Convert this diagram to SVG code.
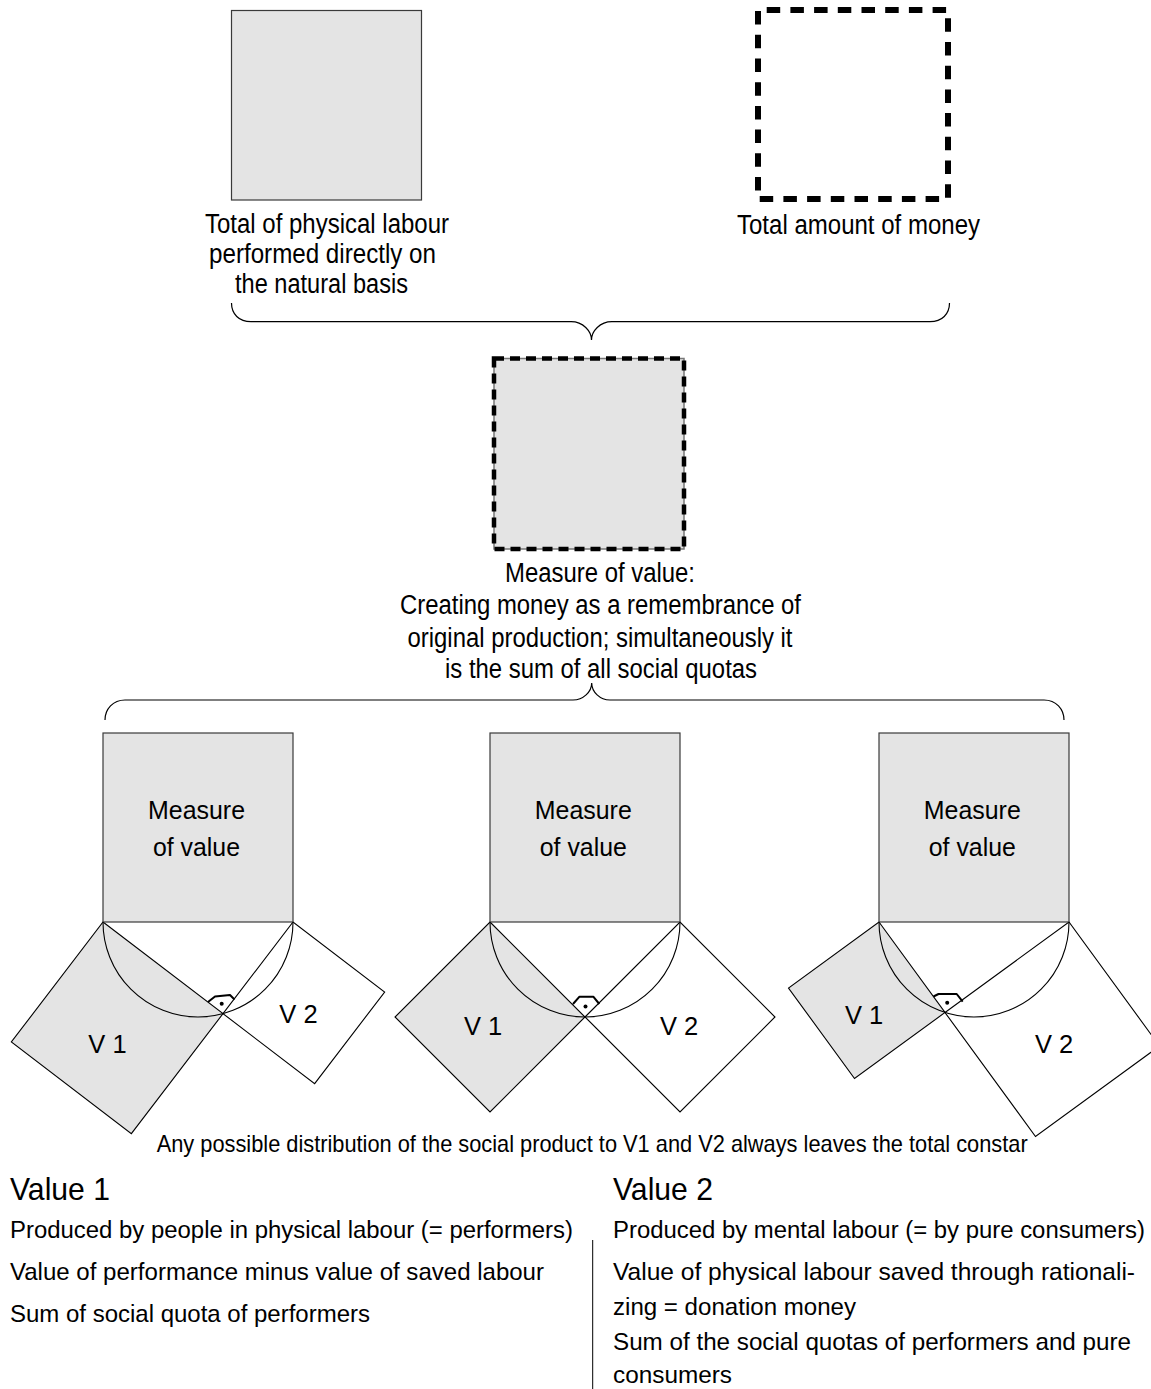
<svg xmlns="http://www.w3.org/2000/svg" width="1151" height="1389" viewBox="0 0 1151 1389">
  <style>
    text { font-family: "Liberation Sans", Arial, sans-serif; fill: #000; }
    .lbl { font-size: 27px; }
    .body { font-size: 24.2px; }
    .note { font-size: 24px; }
    .head { font-size: 32px; }
    .inbox { font-size: 26.5px; text-anchor: middle; }
    .vlab { font-size: 25.5px; }
    .gray { fill: #e4e4e4; stroke: #3a3a3a; stroke-width: 1.2; }
    .leg1 { fill: #e4e4e4; stroke: #000; stroke-width: 1.1; }
    .leg2 { fill: #fff; stroke: #000; stroke-width: 1.1; }
    .arc { fill: none; stroke: #000; stroke-width: 1.1; }
    .ra { fill: none; stroke: #000; stroke-width: 2; stroke-linejoin: round; }
    .brace { fill: none; stroke: #000; stroke-width: 1.2; }
  </style>

  <!-- physical labour -->
  <g id="box-labour">
    <rect class="gray" x="231.5" y="10.5" width="190" height="189.5"/>
    <text class="lbl" x="205" y="233" textLength="244" lengthAdjust="spacingAndGlyphs">Total of physical labour</text>
    <text class="lbl" x="209" y="263" textLength="227" lengthAdjust="spacingAndGlyphs">performed directly on</text>
    <text class="lbl" x="235" y="293" textLength="173" lengthAdjust="spacingAndGlyphs">the natural basis</text>
  </g>

  <!-- money -->
  <g id="box-money">
    <rect x="758" y="10" width="190" height="189" fill="none" stroke="#000" stroke-width="6" stroke-dasharray="13.5 10.2" stroke-dashoffset="15"/>
    <text class="lbl" x="737" y="234" textLength="243" lengthAdjust="spacingAndGlyphs">Total amount of money</text>
  </g>

  <!-- measure of value -->
  <g id="box-measure">
    <rect x="494" y="358.5" width="190" height="190.5" fill="#e4e4e4" stroke="#777" stroke-width="1.5"/>
    <rect x="494" y="358.5" width="190" height="190.5" fill="none" stroke="#000" stroke-width="4.5" stroke-dasharray="10 6"/>
    <text class="lbl" x="505" y="582" textLength="190" lengthAdjust="spacingAndGlyphs">Measure of value:</text>
    <text class="lbl" x="400" y="614" textLength="401" lengthAdjust="spacingAndGlyphs">Creating money as a remembrance of</text>
    <text class="lbl" x="407.5" y="646.5" textLength="385" lengthAdjust="spacingAndGlyphs">original production; simultaneously it</text>
    <text class="lbl" x="445" y="678" textLength="312" lengthAdjust="spacingAndGlyphs">is the sum of all social quotas</text>
  </g>

  <!-- braces -->
  <g id="connectors">
    <path class="brace" d="M231.5,303 C231.5,314 239,321.7 251,321.7 L571,321.7 C583,321.7 591.5,331 591.5,340 C591.5,331 600,321.7 612,321.7 L930,321.7 C942,321.7 949.5,314 949.5,303"/>
    <path class="brace" d="M105,720 C105,709 113,700 125,700 L573,700 C583,700 591.7,692 591.7,683 C591.7,692 600,700 610,700 L1044,700 C1056,700 1064,709 1064,720"/>
  </g>

  <!-- figure 1 -->
  <g id="fig-1">
    <polygon class="leg1" points="103,922 223,1013.65 131.35,1133.65 11.35,1042"/>
    <polygon class="leg2" points="223,1013.65 293,922 384.65,992 314.65,1083.65"/>
    <rect class="gray" x="103" y="733" width="190" height="189"/>
    <path class="arc" d="M103,922 A95,95 0 0 0 293,922"/>
    <polyline class="ra" points="208,1002 215,996.5 230,995 234.5,999.5"/>
    <circle cx="221.7" cy="1003.8" r="2"/>
    <text class="inbox" x="196.5" y="819" textLength="97" lengthAdjust="spacingAndGlyphs">Measure</text>
    <text class="inbox" x="196.5" y="856" textLength="87" lengthAdjust="spacingAndGlyphs">of value</text>
    <text class="vlab" x="88.3" y="1053">V 1</text>
    <text class="vlab" x="279.3" y="1023">V 2</text>
  </g>

  <!-- figure 2 -->
  <g id="fig-2">
    <polygon class="leg1" points="490,922 585,1017 490,1112 395,1017"/>
    <polygon class="leg2" points="585,1017 680,922 775,1017 680,1112"/>
    <rect class="gray" x="490" y="733" width="190" height="189"/>
    <path class="arc" d="M490,922 A95,95 0 0 0 680,922"/>
    <polyline class="ra" points="573,1004 579.5,996.7 593.3,996.7 599.3,1004"/>
    <circle cx="585.5" cy="1006.5" r="2"/>
    <text class="inbox" x="583.3" y="819" textLength="97" lengthAdjust="spacingAndGlyphs">Measure</text>
    <text class="inbox" x="583.3" y="856" textLength="87" lengthAdjust="spacingAndGlyphs">of value</text>
    <text class="vlab" x="464" y="1035">V 1</text>
    <text class="vlab" x="660" y="1035">V 2</text>
  </g>

  <!-- figure 3 -->
  <g id="fig-3">
    <polygon class="leg1" points="879,922 945,1012.5 854.5,1078.5 788.5,988"/>
    <polygon class="leg2" points="945,1012.5 1069,922 1159.5,1046 1035.5,1136.5"/>
    <rect class="gray" x="879" y="733" width="190" height="189"/>
    <path class="arc" d="M879,922 A95,95 0 0 0 1069,922"/>
    <polyline class="ra" points="933.5,996.5 938.5,994 956.7,994 962.7,1001.7"/>
    <circle cx="947.2" cy="1002.8" r="2"/>
    <text class="inbox" x="972.3" y="819" textLength="97" lengthAdjust="spacingAndGlyphs">Measure</text>
    <text class="inbox" x="972.3" y="856" textLength="87" lengthAdjust="spacingAndGlyphs">of value</text>
    <text class="vlab" x="845" y="1024">V 1</text>
    <text class="vlab" x="1035" y="1053">V 2</text>
  </g>

  <!-- explanatory notes -->
  <g id="notes">
    <text class="note" x="156.7" y="1152" textLength="871" lengthAdjust="spacingAndGlyphs">Any possible distribution of the social product to V1 and V2 always leaves the total constar</text>

    <text class="head" x="10" y="1200" textLength="100" lengthAdjust="spacingAndGlyphs">Value 1</text>
    <text class="body" x="10" y="1238" textLength="563" lengthAdjust="spacingAndGlyphs">Produced by people in physical labour (= performers)</text>
    <text class="body" x="10" y="1280" textLength="534" lengthAdjust="spacingAndGlyphs">Value of performance minus value of saved labour</text>
    <text class="body" x="10" y="1321.5" textLength="360" lengthAdjust="spacingAndGlyphs">Sum of social quota of performers</text>

    <line x1="592.7" y1="1240" x2="592.7" y2="1389" stroke="#000" stroke-width="1"/>

    <text class="head" x="613" y="1200" textLength="100" lengthAdjust="spacingAndGlyphs">Value 2</text>
    <text class="body" x="613" y="1238" textLength="532" lengthAdjust="spacingAndGlyphs">Produced by mental labour (= by pure consumers)</text>
    <text class="body" x="613" y="1280" textLength="522" lengthAdjust="spacingAndGlyphs">Value of physical labour saved through rationali-</text>
    <text class="body" x="613" y="1315" textLength="243" lengthAdjust="spacingAndGlyphs">zing = donation money</text>
    <text class="body" x="613" y="1350" textLength="518" lengthAdjust="spacingAndGlyphs">Sum of the social quotas of performers and pure</text>
    <text class="body" x="613" y="1383.3" textLength="119" lengthAdjust="spacingAndGlyphs">consumers</text>
  </g>
</svg>
